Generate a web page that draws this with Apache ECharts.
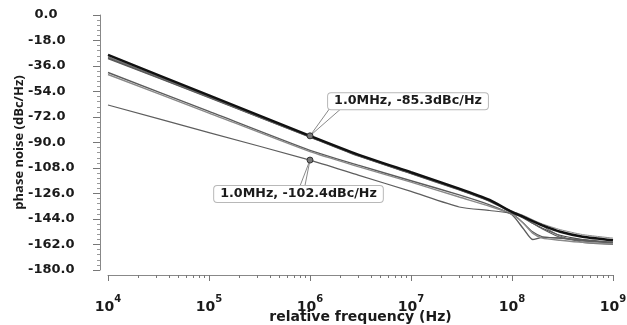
<!DOCTYPE html>
<html>
<head>
<meta charset="utf-8">
<script src="https://cdn.jsdelivr.net/npm/echarts@6/dist/echarts.min.js"></script>
<style>
  html, body { margin: 0; padding: 0; background: #fff; }
  #chart { width: 627px; height: 325px; }
</style>
</head>
<body>
<div id="chart"></div>
<script>
// offset frequencies (Hz) shared by every trace
var freqs = [1e4, 1e5, 1e6, 3e6, 1e7, 3e7, 6e7, 1e8, 1.3e8, 1.6e8, 2e8, 3e8, 5e8, 1e9];

// phase noise traces (dBc/Hz)
var traceA1 = [-28.2, -56.7, -85.3, -98.5, -111.0, -122.5, -130.5, -139.0, -142.5, -145.5, -148.5, -153.0, -156.5, -159.0];
var traceA2 = [-30.3, -58.1, -86.0, -99.3, -111.8, -123.3, -131.3, -139.5, -143.5, -147.0, -150.5, -155.5, -158.5, -161.0];
var traceA3 = [-29.3, -57.4, -85.6, -98.9, -111.3, -122.8, -130.8, -138.5, -141.5, -144.5, -147.5, -151.5, -155.0, -157.5];
var traceA4 = [-30.8, -58.4, -86.2, -99.6, -112.1, -123.6, -131.6, -140.0, -147.0, -153.0, -156.5, -157.5, -158.5, -160.5];
var traceA5 = [-29.8, -57.7, -85.8, -99.1, -111.6, -123.0, -131.0, -139.5, -142.5, -145.5, -149.0, -156.0, -160.5, -162.0];
var traceB1 = [-40.6, -68.0, -95.5, -106.0, -117.0, -127.0, -134.0, -141.0, -151.0, -158.5, -157.0, -157.5, -159.0, -161.0];
var traceB2 = [-42.0, -69.2, -96.5, -107.0, -118.0, -128.5, -135.0, -140.5, -147.0, -154.0, -157.5, -159.0, -160.5, -161.5];
var traceC  = [-63.5, -83.0, -102.4, -113.0, -124.5, -135.5, -138.0, -140.0, -143.0, -147.0, -151.0, -157.0, -159.5, -160.5];

// marker readouts
var marker1 = [1e6, -85.3];
var marker2 = [1e6, -102.4];
var marker1Text = '1.0MHz, -85.3dBc/Hz';
var marker2Text = '1.0MHz, -102.4dBc/Hz';
// callout leader ends (data space)
var lead1 = [[1.58e6, -65.6], [2.07e6, -65.6]];
var lead2 = [[7.96e5, -120.7], [8.9e5, -120.7]];

// axis ticks
var yMin = -180, yMax = 0, yStep = 18;
var decades = [4, 5, 6, 7, 8];
var minorSteps = [2, 3, 4, 5, 6, 7, 8, 9];

var minorTickVals = [];
decades.forEach(function (d) {
    minorSteps.forEach(function (k) {
        minorTickVals.push(d + Math.log10(k));
    });
});

function pairs(ys) {
    return freqs.map(function (f, i) { return [f, ys[i]]; });
}

var chart = echarts.init(document.getElementById('chart'));

var hFont = 'DejaVu Sans';

function trace(name, ys, color, width, extra) {
    var s = {
        name: name,
        type: 'line',
        data: pairs(ys),
        showSymbol: false,
        smooth: 0.2,
        lineStyle: { color: color, width: width },
        z: 2
    };
    if (extra) {
        for (var k in extra) s[k] = extra[k];
    }
    return s;
}

function callout(pt, text, offset) {
    return {
        symbol: 'circle',
        symbolSize: 6,
        itemStyle: { color: '#777', borderColor: '#333', borderWidth: 1 },
        label: {
            show: true,
            position: 'inside',
            offset: offset,
            formatter: text,
            fontFamily: hFont,
            fontWeight: 'bold',
            fontSize: 12.7,
            color: '#1a1a1a',
            backgroundColor: '#fff',
            borderColor: '#b8b8b8',
            borderWidth: 1,
            borderRadius: 3,
            padding: [2, 6, 1, 6]
        },
        data: [{ coord: pt }]
    };
}

function leader(pt, ends) {
    return {
        silent: true,
        symbol: ['none', 'none'],
        label: { show: false },
        lineStyle: { color: '#8a8a8a', width: 1, type: 'solid' },
        animation: false,
        data: ends.map(function (e) {
            return [{ coord: pt }, { coord: e }];
        })
    };
}

var option = {
    backgroundColor: '#fff',
    animation: false,
    grid: { left: 108, right: 14, top: 15, bottom: 55, containLabel: false, outerBoundsMode: 'none' },
    xAxis: [
        {
            type: 'log',
            logBase: 10,
            min: 1e4,
            max: 1e9,
            position: 'bottom',
            offset: 5,
            name: 'relative frequency (Hz)',
            nameLocation: 'middle',
            nameMoveOverlap: false,
            nameGap: 35,
            nameTextStyle: { fontFamily: hFont, fontWeight: 'bold', fontSize: 14, color: '#1a1a1a' },
            axisLine: { onZero: false, lineStyle: { color: '#888', width: 1 } },
            axisTick: { length: 6, lineStyle: { color: '#777' } },
            splitLine: { show: false },
            axisLabel: {
                margin: 19,
                formatter: function (v) {
                    return '{b|10}{s|' + Math.round(Math.log10(v)) + '}';
                },
                rich: {
                    b: { fontFamily: hFont, fontWeight: 'bold', fontSize: 14, color: '#1a1a1a', lineHeight: 20, verticalAlign: 'bottom' },
                    s: { fontFamily: hFont, fontWeight: 'bold', fontSize: 10, color: '#1a1a1a', lineHeight: 20, verticalAlign: 'top' }
                }
            }
        },
        {
            type: 'value',
            min: 4,
            max: 9,
            position: 'bottom',
            offset: 5,
            axisLine: { show: false, onZero: false },
            axisLabel: { show: false },
            splitLine: { show: false },
            axisTick: { show: true, length: 3, customValues: minorTickVals, lineStyle: { color: '#777' } }
        }
    ],
    yAxis: {
        type: 'value',
        min: yMin,
        max: yMax,
        interval: yStep,
        offset: 8,
        name: 'phase noise (dBc/Hz)',
        nameLocation: 'middle',
        nameMoveOverlap: false,
        nameGap: 74,
        nameTextStyle: { fontFamily: 'Open Sans', fontWeight: 'bold', fontSize: 13, color: '#1a1a1a' },
        axisLine: { show: true, onZero: false, lineStyle: { color: '#888', width: 1 } },
        axisTick: { show: true, length: 7, lineStyle: { color: '#777' } },
        minorTick: { show: true, splitNumber: 5, length: 3, lineStyle: { color: '#999' } },
        splitLine: { show: false },
        axisLabel: {
            align: 'left',
            margin: 72,
            fontFamily: hFont,
            fontWeight: 'bold',
            fontSize: 13,
            color: '#1a1a1a',
            formatter: function (v) {
                // non-negative values keep a blank sign slot
                return (v < 0 ? '' : '\u2002') + v.toFixed(1);
            }
        }
    },
    series: [
        trace('A3', traceA3, '#8a8a8a', 1),
        trace('A2', traceA2, '#4a4a4a', 1.2),
        trace('A4', traceA4, '#5a5a5a', 1.1),
        trace('A5', traceA5, '#6a6a6a', 1.1),
        trace('B1', traceB1, '#5c5c5c', 1.4),
        trace('B2', traceB2, '#8a8a8a', 1.4),
        trace('C', traceC, '#5e5e5e', 1.2, {
            markPoint: callout(marker2, marker2Text, [-11.5, 34]),
            markLine: leader(marker2, lead2)
        }),
        trace('A1', traceA1, '#111', 2.4, {
            markPoint: callout(marker1, marker1Text, [98, -34.7]),
            markLine: leader(marker1, lead1)
        })
    ]
};

chart.setOption(option);
</script>
</body>
</html>
